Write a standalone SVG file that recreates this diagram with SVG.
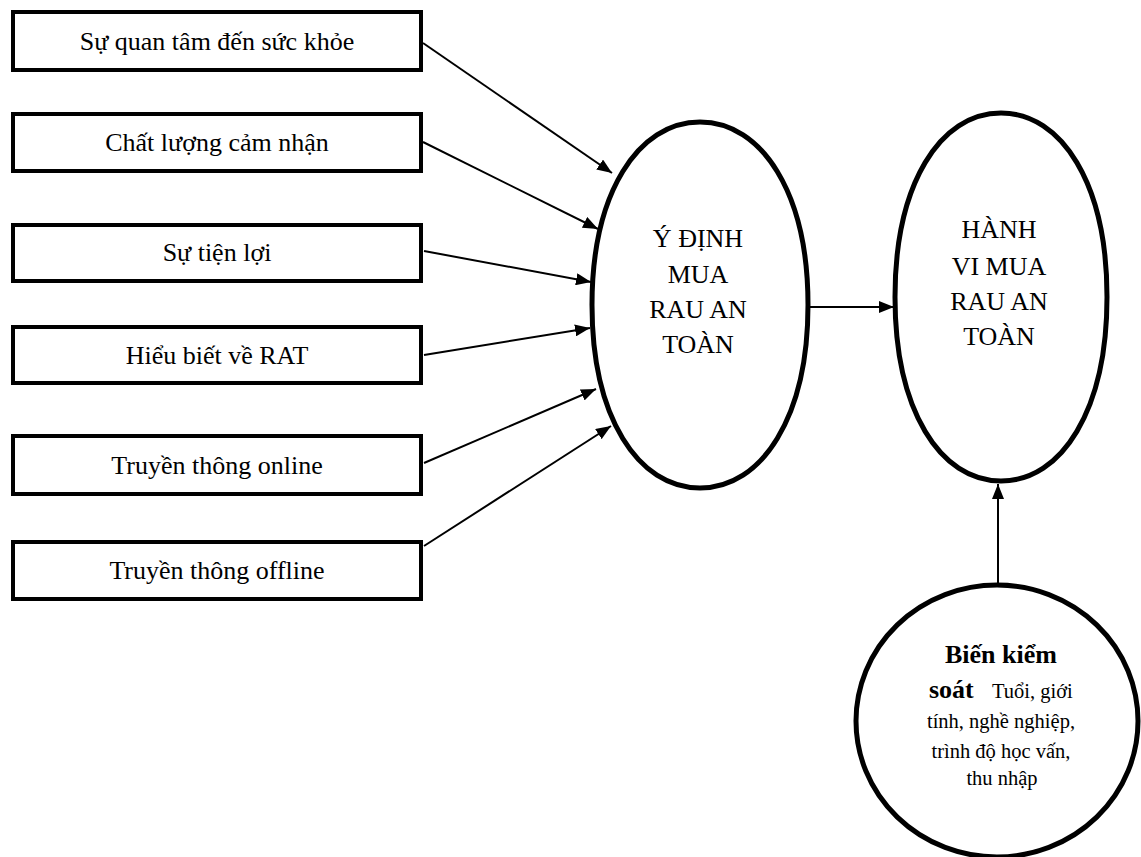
<svg xmlns="http://www.w3.org/2000/svg" width="1141" height="857" viewBox="0 0 1141 857">
<style>
.box{fill:#fff;stroke:#000;stroke-width:4}
.oval{fill:#fff;stroke:#000;stroke-width:5}
.t{font-family:"Liberation Serif","Times New Roman",serif;font-size:26px;fill:#000;text-anchor:middle}
.b{font-weight:bold}
.s{font-family:"Liberation Serif","Times New Roman",serif;font-size:20.5px;fill:#000;text-anchor:middle}
.c{stroke:#000;stroke-width:2;fill:none;marker-end:url(#ah)}
</style>
<defs>
<marker id="ah" markerUnits="userSpaceOnUse" markerWidth="15" markerHeight="12" refX="15" refY="6" orient="auto">
<path d="M0,0 L15,6 L0,12 z" fill="#000"/>
</marker>
</defs>
<rect width="1141" height="857" fill="#fff"/>
<g id="connectors">
<line class="c" x1="423" y1="43" x2="612" y2="173"/>
<line class="c" x1="423" y1="142" x2="598" y2="229"/>
<line class="c" x1="424" y1="251" x2="591" y2="282"/>
<line class="c" x1="424" y1="355" x2="590" y2="328"/>
<line class="c" x1="424" y1="463" x2="596" y2="389"/>
<line class="c" x1="424" y1="546" x2="611" y2="426"/>
<line class="c" x1="806" y1="307" x2="894" y2="307"/>
<line class="c" x1="998" y1="585" x2="998" y2="484"/>
</g>
<g id="n1"><rect class="box" x="13" y="12" width="408" height="58"/><text class="t" x="217" y="50">Sự quan tâm đến sức khỏe</text></g>
<g id="n2"><rect class="box" x="13" y="114" width="408" height="57"/><text class="t" x="217" y="151">Chất lượng cảm nhận</text></g>
<g id="n3"><rect class="box" x="13" y="225" width="408" height="56"/><text class="t" x="217" y="261">Sự tiện lợi</text></g>
<g id="n4"><rect class="box" x="13" y="327" width="408" height="56"/><text class="t" x="217" y="364">Hiểu biết về RAT</text></g>
<g id="n5"><rect class="box" x="13" y="436" width="408" height="58"/><text class="t" x="217" y="474">Truyền thông online</text></g>
<g id="n6"><rect class="box" x="13" y="542" width="408" height="57"/><text class="t" x="217" y="579">Truyền thông offline</text></g>
<g id="intent">
<path class="oval" d="M700,122 C762,122 808,193 808,305 C808,417 762,488 700,488 C638,488 592,417 592,305 C592,193 638,122 700,122 Z"/>
<text class="t" x="698" y="247">Ý ĐỊNH</text>
<text class="t" x="698" y="283">MUA</text>
<text class="t" x="698" y="318">RAU AN</text>
<text class="t" x="698" y="353">TOÀN</text>
</g>
<g id="behavior">
<path class="oval" d="M1001,113 C1062,113 1107,184 1107,297 C1107,410 1062,481 1001,481 C940,481 895,410 895,297 C895,184 940,113 1001,113 Z"/>
<text class="t" x="999" y="238">HÀNH</text>
<text class="t" x="999" y="275">VI MUA</text>
<text class="t" x="999" y="310">RAU AN</text>
<text class="t" x="999" y="345">TOÀN</text>
</g>
<g id="control">
<ellipse class="oval" cx="997" cy="721" rx="141" ry="136"/>
<text class="t b" x="1001" y="663">Biến kiểm</text>
<text x="929" y="698"><tspan class="b" style="font-family:'Liberation Serif','Times New Roman',serif;font-size:26px">soát</tspan><tspan x="992" style="font-family:'Liberation Serif','Times New Roman',serif;font-size:20.5px">Tuổi, giới</tspan></text>
<text class="s" x="1001" y="728">tính, nghề nghiệp,</text>
<text class="s" x="1001" y="758">trình độ học vấn,</text>
<text class="s" x="1002" y="785">thu nhập</text>
</g>
</svg>
